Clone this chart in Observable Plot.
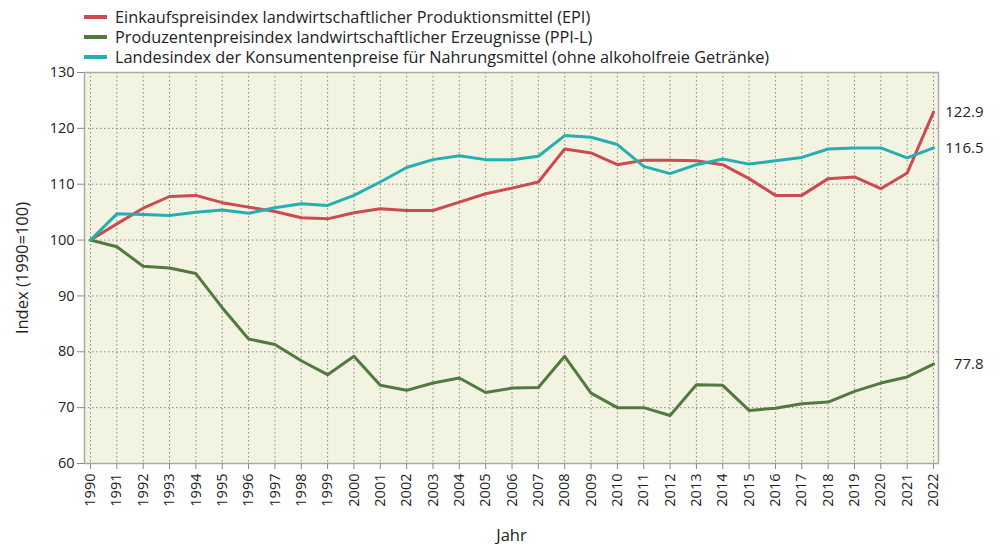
<!DOCTYPE html>
<html>
<head>
<meta charset="utf-8">
<script src="https://cdn.jsdelivr.net/npm/d3@7"></script>
<script src="https://cdn.jsdelivr.net/npm/@observablehq/plot@0.6"></script>
<style>
  html, body { margin: 0; padding: 0; background: #fff; }
  body { width: 1003px; height: 544px; overflow: hidden; font-family: "Open Sans", sans-serif; }
  #legend { height: 58px; overflow: visible; position: relative; z-index: 2; box-sizing: border-box; padding: 7px 0 0 84px; }
  .item { display: flex; align-items: center; height: 20px; font-size: 16.3px; color: #222; white-space: nowrap; }
  .sw { width: 23px; height: 4px; margin-right: 8px; flex: none; }
  #chart svg { display: block; }
</style>
</head>
<body>
<div id="legend"></div>
<div id="chart"></div>
<script>
const years = d3.range(1990, 2023);
const seriesNames = [
  "Einkaufspreisindex landwirtschaftlicher Produktionsmittel (EPI)",
  "Produzentenpreisindex landwirtschaftlicher Erzeugnisse (PPI-L)",
  "Landesindex der Konsumentenpreise für Nahrungsmittel (ohne alkoholfreie Getränke)"
];
const seriesColors = ["#cc4a50", "#527a40", "#26afb2"];
const epi = [100, 102.9, 105.7, 107.8, 108.0, 106.7, 105.9, 105.1, 104.0, 103.8, 104.9, 105.6, 105.3, 105.3, 106.8, 108.3, 109.3, 110.4, 116.3, 115.6, 113.5, 114.3, 114.3, 114.2, 113.5, 111.0, 108.0, 108.0, 111.0, 111.3, 109.2, 112.0, 122.9];
const ppi = [100, 98.8, 95.3, 95.0, 94.0, 87.9, 82.3, 81.3, 78.4, 75.9, 79.2, 74.0, 73.1, 74.4, 75.3, 72.7, 73.5, 73.6, 79.2, 72.6, 70.0, 70.0, 68.6, 74.1, 74.0, 69.5, 69.9, 70.7, 71.0, 72.9, 74.4, 75.5, 77.8];
const cpi = [100, 104.7, 104.6, 104.4, 105.0, 105.4, 104.8, 105.8, 106.5, 106.2, 108.0, 110.4, 113.0, 114.4, 115.1, 114.4, 114.4, 115.0, 118.7, 118.4, 117.1, 113.2, 111.9, 113.5, 114.5, 113.6, 114.2, 114.8, 116.3, 116.5, 116.5, 114.7, 116.5];
const yTicks = [60, 70, 80, 90, 100, 110, 120, 130];
const endLabels = ["122.9", "77.8", "116.5"];

const allSeries = [epi, ppi, cpi];
const rows = [];
allSeries.forEach((vals, s) => vals.forEach((v, i) => rows.push({year: years[i], value: v, series: seriesNames[s]})));
const lastRows = allSeries.map((vals, s) => ({year: years[years.length - 1], value: vals[vals.length - 1], label: endLabels[s]}));

// legend
const legend = document.getElementById("legend");
seriesNames.forEach((n, i) => {
  const it = document.createElement("div");
  it.className = "item";
  it.innerHTML = `<span class="sw" style="background:${seriesColors[i]}"></span><span>${n}</span>`;
  legend.appendChild(it);
});

const chart = Plot.plot({
  width: 1003,
  height: 486,
  marginTop: 14,
  marginBottom: 81,
  marginLeft: 84,
  marginRight: 65,
  insetLeft: 6,
  insetRight: 5,
  style: {fontFamily: "Open Sans, sans-serif", fontSize: "14px", color: "#222", background: "transparent"},
  x: {domain: [1990, 2022]},
  y: {domain: [60, 130]},
  color: {domain: seriesNames, range: seriesColors},
  marks: [
    Plot.frame({fill: "#f3f3e2", stroke: null}),
    Plot.gridX(years, {stroke: "#666", strokeOpacity: 0.75, strokeDasharray: "1.5,2.5", strokeWidth: 1}),
    Plot.gridY(yTicks, {stroke: "#666", strokeOpacity: 0.75, strokeDasharray: "1.5,2.5", strokeWidth: 1}),
    Plot.frame({stroke: "#aaa", strokeWidth: 1.5}),
    Plot.axisX(years, {tickRotate: -90, tickFormat: d => String(d), tickSize: 6, tickPadding: 4, stroke: "#888", fontSize: 14.5,
      label: null}),
    Plot.axisX({label: "Jahr", labelAnchor: "center", labelArrow: "none", labelOffset: 77, ticks: [], fontSize: 16.5}),
    Plot.axisY(yTicks, {tickSize: 7, tickPadding: 3, stroke: "#888", fontSize: 14.5, label: null}),
    Plot.axisY({label: "Index (1990=100)", labelAnchor: "center", labelArrow: "none", labelOffset: 68, ticks: [], fontSize: 16.5}),
    Plot.line(rows, {x: "year", y: "value", z: "series", stroke: "series", strokeWidth: 3}),
    Plot.text(lastRows, {x: "year", y: "value", text: "label", textAnchor: "end", dx: 50, fontSize: 15, fill: "#222"})
  ]
});
document.getElementById("chart").appendChild(chart);
</script>
</body>
</html>
